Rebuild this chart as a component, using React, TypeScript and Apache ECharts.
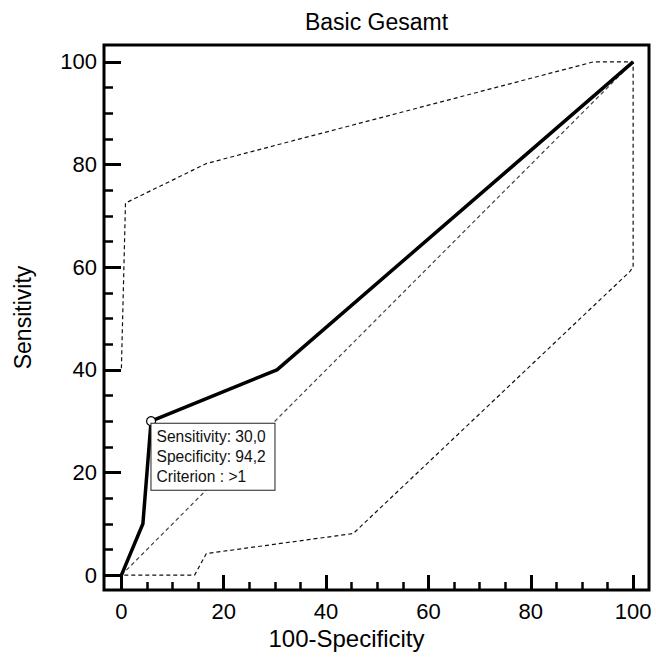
import React, { useEffect, useRef } from "react";
import * as echarts from "echarts";

const FONT = '"Liberation Sans", Arial, sans-serif';

const titleText = "Basic Gesamt";
const xAxisName = "100-Specificity";
const yAxisName = "Sensitivity";

const majorTicks = [0, 20, 40, 60, 80, 100];
const minorTicks = [5, 10, 15, 25, 30, 35, 45, 50, 55, 65, 70, 75, 85, 90, 95];

// ROC curve (100-Specificity, Sensitivity)
const rocX = [0, 4.2, 5.8, 30.4, 100];
const rocY = [0, 10, 30, 40, 100];

// Confidence band (upper part then lower part, one closed outline)
const bandX = [0, 0.8, 16.6, 30.3, 92.2, 100, 100, 99.3, 45.3, 16.6, 14.3, 0];
const bandY = [40.3, 72.5, 80.2, 83.8, 100, 100, 60, 59.1, 8.1, 4.2, 0, 0];

// Reference diagonal
const diagX = [0, 100];
const diagY = [0, 100];

// Selected criterion
const critSensitivity = 30.0;
const critSpecificity = 94.2;
const critCriterion = ">1";

const zip = (xs: number[], ys: number[]) => xs.map((x, i) => [x, ys[i]]);
const fmt = (v: number) => v.toFixed(1).replace(".", ",");

export default function App() {
  const ref = useRef<HTMLDivElement>(null);

  useEffect(() => {
    if (!ref.current) return;
    const chart = echarts.init(ref.current, null, { renderer: "svg" });

    const gridLeft = 104;
    const gridRight = 7;
    const gridTop = 45;
    const gridBottom = 73;
    const W = 656;
    const titleX = gridLeft + (W - gridLeft - gridRight) / 2;

    const xMin = -3.4, xMax = 103.1;
    const yMin = -2.9, yMax = 103.3;

    chart.setOption({
      animation: false,
      backgroundColor: "#fff",
      textStyle: { fontFamily: FONT },
      graphic: [
        {
          type: "text",
          x: titleX,
          y: 22,
          style: {
            text: titleText,
            fontFamily: FONT,
            fontSize: 23,
            fill: "#000",
            textAlign: "center",
            textVerticalAlign: "middle",
          },
        },
      ],
      grid: {
        left: gridLeft,
        right: gridRight,
        top: gridTop,
        bottom: gridBottom,
        show: true,
        borderColor: "#000",
        borderWidth: 3,
        backgroundColor: "#fff",
      },
      xAxis: [
        {
          type: "value",
          min: xMin,
          max: xMax,
          position: "bottom",
          name: xAxisName,
          nameLocation: "middle",
          nameGap: 35,
          nameTextStyle: {
            fontFamily: FONT,
            fontSize: 24,
            color: "#000",
            padding: [0, 60, 0, 0],
          },
          axisLine: { show: false, onZero: false },
          splitLine: { show: false },
          axisTick: {
            show: true,
            inside: true,
            length: 15,
            customValues: majorTicks,
            lineStyle: { color: "#000", width: 3 },
          },
          axisLabel: {
            customValues: majorTicks,
            margin: 10,
            fontFamily: FONT,
            fontSize: 22,
            color: "#000",
          },
        },
        {
          type: "value",
          min: xMin,
          max: xMax,
          position: "bottom",
          axisLine: { show: false, onZero: false },
          splitLine: { show: false },
          axisLabel: { show: false },
          axisTick: {
            show: true,
            inside: true,
            length: 8,
            customValues: minorTicks,
            lineStyle: { color: "#000", width: 2.5 },
          },
        },
      ],
      yAxis: [
        {
          type: "value",
          min: yMin,
          max: yMax,
          position: "left",
          name: yAxisName,
          nameLocation: "middle",
          nameGap: 70,
          nameTextStyle: { fontFamily: FONT, fontSize: 23, color: "#000" },
          axisLine: { show: false, onZero: false },
          splitLine: { show: false },
          axisTick: {
            show: true,
            inside: true,
            length: 17,
            customValues: majorTicks,
            lineStyle: { color: "#000", width: 3 },
          },
          axisLabel: {
            customValues: majorTicks,
            margin: 7,
            fontFamily: FONT,
            fontSize: 22,
            color: "#000",
          },
        },
        {
          type: "value",
          min: yMin,
          max: yMax,
          position: "left",
          axisLine: { show: false, onZero: false },
          splitLine: { show: false },
          axisLabel: { show: false },
          axisTick: {
            show: true,
            inside: true,
            length: 9,
            customValues: minorTicks,
            lineStyle: { color: "#000", width: 2.5 },
          },
        },
      ],
      series: [
        {
          type: "line",
          name: "band",
          data: zip(bandX, bandY),
          symbol: "none",
          silent: true,
          lineStyle: { color: "#111", width: 1.2, type: [4, 3] },
          z: 2,
        },
        {
          type: "line",
          name: "diagonal",
          data: zip(diagX, diagY),
          symbol: "none",
          silent: true,
          lineStyle: { color: "#444", width: 1.2, type: [4, 3] },
          z: 2,
        },
        {
          type: "line",
          name: "roc",
          data: zip(rocX, rocY),
          symbol: "none",
          silent: true,
          lineStyle: { color: "#000", width: 3.5 },
          z: 3,
        },
        {
          type: "scatter",
          name: "criterion",
          data: [[100 - critSpecificity, critSensitivity]],
          symbol: "circle",
          symbolSize: 9,
          silent: true,
          itemStyle: {
            color: "#fff",
            borderColor: "#000",
            borderWidth: 1.2,
            opacity: 1,
          },
          z: 5,
          label: {
            show: true,
            position: [5.5, 7.8],
            align: "left",
            verticalAlign: "top",
            fontFamily: FONT,
            fontSize: 15.6,
            lineHeight: 20,
            color: "#111",
            backgroundColor: "#fff",
            borderColor: "#222",
            borderWidth: 1,
            padding: [3, 5, 3, 5],
            width: 113,
            formatter: () =>
              `Sensitivity: ${fmt(critSensitivity)}\nSpecificity: ${fmt(
                critSpecificity
              )}\nCriterion : ${critCriterion}`,
          },
        },
      ],
    });

    return () => chart.dispose();
  }, []);

  return (
    <div
      ref={ref}
      style={{ position: "fixed", left: 0, top: 0, width: 656, height: 663 }}
    />
  );
}
